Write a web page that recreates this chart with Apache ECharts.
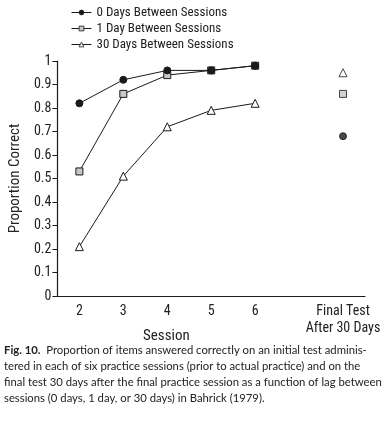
<!DOCTYPE html>
<html><head><meta charset="utf-8">
<script src="https://cdn.jsdelivr.net/npm/echarts@6/dist/echarts.min.js"></script>
<style>html,body{margin:0;padding:0;background:#fff}#c{width:387px;height:426px}</style>
</head><body><div id="c"></div>
<script>
var categories = ['2','3','4','5','6','','Final Test\nAfter 30 Days'];
var seriesNames = ['0 Days Between Sessions','1 Day Between Sessions','30 Days Between Sessions'];
var days0 = [0.82, 0.92, 0.96, 0.96, 0.98];
var days1 = [0.53, 0.86, 0.94, 0.96, 0.98];
var days30 = [0.21, 0.51, 0.72, 0.79, 0.82];
var finalTest = [0.68, 0.86, 0.95];
var yTicks = [0, 1, 0.1];

var NF = '"Roboto Condensed", "Liberation Sans Narrow", "Arial Narrow", sans-serif';
var symbols = ['circle','rect','triangle'];
var fills = ['#1a1a1a','#c8c8c8','#ffffff'];
var sizes = [7,7,8];
var practice = [days0, days1, days30];

function pad(arr){ var a = arr.slice(); while(a.length<categories.length) a.push('-'); return a; }
function finalOnly(v){ var a=[]; for(var i=0;i<categories.length-1;i++) a.push('-'); a.push(v); return a; }

var series = [];
for (var i=0;i<3;i++){
  series.push({
    name: seriesNames[i], type:'line', data: pad(practice[i]),
    symbol: symbols[i], symbolSize: sizes[i], showAllSymbol:true,
    lineStyle:{color:'#1a1a1a', width:1},
    itemStyle:{color:fills[i], borderColor:'#1a1a1a', borderWidth:1},
    z: 3-i
  });
}
for (var i=0;i<3;i++){
  series.push({
    name: seriesNames[i], type:'scatter', data: finalOnly(finalTest[i]),
    symbol: symbols[i], symbolSize: sizes[i],
    itemStyle:{color:fills[i], borderColor:'#1a1a1a', borderWidth:1}
  });
}

var chart = echarts.init(document.getElementById('c'));
chart.setOption({
  animation:false,
  backgroundColor:'#fff',
  legend:{
    data: seriesNames,
    orient:'vertical', left:66, top:1, itemGap:3, itemWidth:20, itemHeight:6,
    lineStyle:{width:1},
    itemStyle:{borderWidth:0.8},
    textStyle:{fontFamily:NF, fontSize:13, color:'#222'},
    selectedMode:false
  },
  grid:{left:57, right:22, top:61, bottom:130, containLabel:false},
  xAxis:{
    type:'category', data:categories, boundaryGap:true,
    axisLine:{lineStyle:{color:'#1a1a1a', width:1.2}},
    axisTick:{show:false},
    axisLabel:{fontFamily:NF, fontSize:14, color:'#222', margin:7, lineHeight:17, interval:0}
  },
  yAxis:{
    type:'value', min:yTicks[0], max:yTicks[1], interval:yTicks[2],
    splitLine:{show:false},
    axisLine:{show:true, lineStyle:{color:'#1a1a1a', width:1.2}},
    axisTick:{show:true, length:5, lineStyle:{color:'#1a1a1a'}},
    axisLabel:{fontFamily:NF, fontSize:14, color:'#222', margin:6},
    name:'Proportion Correct', nameLocation:'middle', nameGap:31, nameRotate:90,
    nameTextStyle:{fontFamily:NF, fontSize:15, color:'#222'}
  },
  graphic:[
    {type:'text', left:143, top:329, style:{text:'Session', font:'15px '+NF, fill:'#222'}},
    {type:'text', left:4, top:342, style:{
      text:'{b|Fig. 10.}  Proportion of items answered correctly on an initial test adminis-\ntered in each of six practice sessions (prior to actual practice) and on the\nfinal test 30 days after the final practice session as a function of lag between\nsessions (0 days, 1 day, or 30 days) in Bahrick (1979).',
      font:'11.3px Lato, sans-serif', fill:'#222', lineHeight:16,
      rich:{b:{font:'bold 11.3px Lato, sans-serif', fill:'#222'}}
    }}
  ],
  series: series
});
</script></body></html>
